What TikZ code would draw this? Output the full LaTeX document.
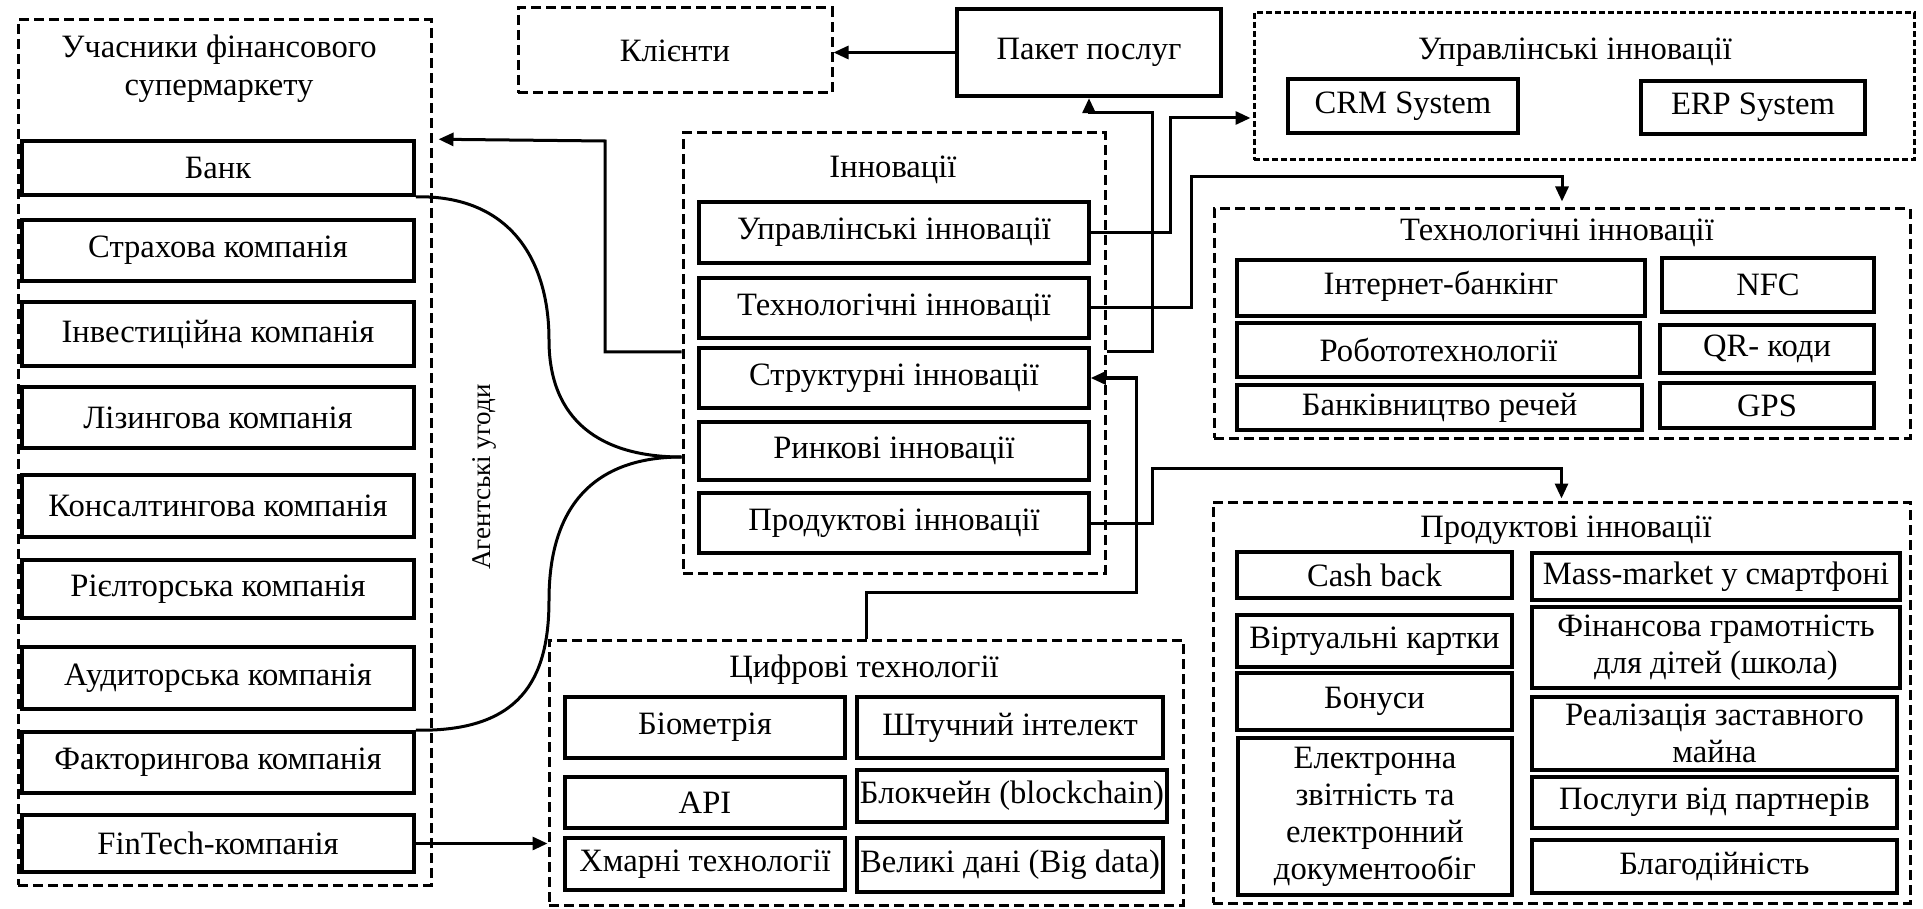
\documentclass[tikz,border=0pt]{standalone}
\usepackage{fontspec}
\setmainfont{Liberation Serif}
\usetikzlibrary{arrows.meta}
\newcommand\mainfs{\fontsize{16.3}{18.5}\selectfont}
\newcommand\agrfs{\fontsize{13.5}{15}\selectfont}
% rectangle node given by its corners (in px) and its text
\newcommand\mkrect[7][]{\node[#1, minimum width={(#5-#3)*0.5pt}, minimum height={(#6-#4)*0.5pt}]
  (#2) at ({(#3+#5)/2},{(#4+#6)/2}) {#7};}
\begin{document}
\begin{tikzpicture}[x=0.5pt,y=-0.5pt,
  box/.style={draw, line width=1.8pt, inner sep=0pt, align=center, font=\mainfs},
  grp/.style={draw, line width=1.5pt, dash pattern=on 5pt off 2.5pt, inner sep=0pt, align=center, font=\mainfs},
  ttl/.style={font=\mainfs, align=center, inner sep=0pt},
  conn/.style={line width=1.5pt},
  arr/.style={conn, -{Triangle[length=7.5pt,width=6.5pt]}}]
\useasboundingbox (0,0) rectangle (1923,909);
\fill[white] (0,0) rectangle (1923,909);

% helper heights for connectors
\coordinate (y352) at (0,352);
\coordinate (y118) at (0,118);
\coordinate (y457) at (0,457);

% participants of the financial supermarket
\mkrect[grp]{lc}{18}{20}{431}{885}{}
\node[ttl, font=\fontsize{16.3}{19}\selectfont] (lct) at (219,69) {Учасники фінансового\\супермаркету};
\mkrect[box]{bank}{22}{141}{414}{195}{Банк}
\mkrect[box]{strakh}{22}{220}{414}{281}{Страхова компанія}
\mkrect[box]{invest}{22}{302}{414}{366}{Інвестиційна компанія}
\mkrect[box]{lizing}{22}{387}{414}{448}{Лізингова компанія}
\mkrect[box]{kons}{22}{475}{414}{537}{Консалтингова компанія}
\mkrect[box]{riel}{22}{560}{414}{618}{Рієлторська компанія}
\mkrect[box]{audyt}{22}{647}{414}{709}{Аудиторська компанія}
\mkrect[box]{faktor}{22}{732}{414}{793}{Факторингова компанія}
\mkrect[box]{fintech}{22}{815}{414}{872}{FinTech-компанія}

% clients and service package
\mkrect[grp]{kl}{518}{8}{832}{93}{Клієнти}
\mkrect[box, line width=2.2pt]{pak}{957}{9}{1221}{96}{Пакет послуг}

% innovations
\mkrect[grp]{innov}{683}{133}{1105}{573}{}
\node[ttl] (innovt) at (893,170) {Інновації};
\mkrect[box]{upr}{699}{202}{1089}{263}{Управлінські інновації}
\mkrect[box]{tekh}{699}{278}{1089}{338}{Технологічні інновації}
\mkrect[box]{strukt}{699}{348}{1089}{408}{Структурні інновації}
\mkrect[box]{rynk}{699}{422}{1089}{480}{Ринкові інновації}
\mkrect[box]{prod}{699}{493}{1089}{553}{Продуктові інновації}

% management innovations
\mkrect[grp, dash pattern=on 3pt off 1.5pt]{uc}{1254}{13}{1914}{160}{}
\node[ttl] (uct) at (1575,52) {Управлінські інновації};
\mkrect[box]{crm}{1288}{79}{1518}{133}{CRM System}
\mkrect[box]{erp}{1641}{81}{1865}{134}{ERP System}

% technological innovations
\mkrect[grp]{tc}{1214}{209}{1910}{438}{}
\node[ttl] (tct) at (1557,233) {Технологічні інновації};
\mkrect[box]{ibank}{1237}{260}{1645}{316}{\raisebox{5pt}{Інтернет-банкінг}}
\mkrect[box]{robot}{1237}{323}{1640}{377}{\raisebox{-3pt}{Робототехнології}}
\mkrect[box]{iot}{1237}{385}{1642}{430}{Банківництво речей}
\mkrect[box]{nfc}{1662}{258}{1874}{312}{NFC}
\mkrect[box]{qr}{1660}{325}{1874}{373}{QR- коди}
\mkrect[box]{gps}{1660}{383}{1874}{428}{GPS}

% digital technologies
\mkrect[grp]{cc}{549}{640}{1183}{905}{}
\node[ttl] (cct) at (864,670) {Цифрові технології};
\mkrect[box]{bio}{565}{697}{845}{758}{Біометрія}
\mkrect[box]{ai}{857}{697}{1163}{758}{Штучний інтелект}
\mkrect[box]{api}{565}{777}{845}{828}{API}
\mkrect[box]{blk}{857}{770}{1167}{822}{Блокчейн (blockchain)}
\mkrect[box]{cloud}{565}{838}{845}{890}{Хмарні технології}
\mkrect[box]{big}{857}{838}{1163}{892}{Великі дані (Big data)}

% product innovations
\mkrect[grp]{pc}{1213}{502}{1910}{903}{}
\node[ttl] (pct) at (1566,530) {Продуктові інновації};
\mkrect[box]{cash}{1237}{552}{1512}{598}{Cash back}
\mkrect[box]{virt}{1237}{615}{1512}{667}{Віртуальні картки}
\mkrect[box]{bon}{1237}{673}{1512}{730}{Бонуси}
\mkrect[box]{edoc}{1238}{738}{1512}{895}{Електронна\\звітність та\\електронний\\документообіг}
\mkrect[box]{mass}{1532}{553}{1900}{600}{Mass-market у смартфоні}
\mkrect[box]{fin}{1532}{607}{1900}{688}{Фінансова грамотність\\для дітей (школа)}
\mkrect[box]{zast}{1532}{697}{1897}{770}{Реалізація заставного\\майна}
\mkrect[box]{part}{1532}{777}{1897}{828}{Послуги від партнерів}
\mkrect[box]{blag}{1532}{840}{1897}{893}{Благодійність}

% agency agreements
\node[font=\agrfs, rotate=90, inner sep=0pt] (agr) at (484,477) {Агентські угоди};

% connectors
\draw[arr] (pak.west) -- (pak.west -| kl.east);
\draw[arr] (innov.east |- y352) -- (1152,352) -- (1152,113) -| (pak.south);
\draw[arr, shorten >=3pt] (innov.west |- y352) -- (605,352) -- (605,141) -- (lc.east |- bank.north);
\draw[arr, shorten >=1pt] (upr.east) -| (1170,118) -- (uc.west |- y118);
\draw[arr, shorten >=3pt] (tekh.east) -| (1191,177) -| (tc.north);
\draw[arr] (cc.north) |- (1136,592) |- (strukt.east);
\draw[arr, shorten >=1pt] (prod.east) -| (1152,468) -| (pc.north);
\draw[arr] (fintech.east) -- (fintech.east -| cc.west);
\draw[conn] (bank.south east) .. controls (510,195) and (549,260) .. (549,340)
  .. controls (549,420) and (600,457) .. (innov.west |- y457);
\draw[conn] (faktor.north east) .. controls (520,732) and (549,680) .. (549,600)
  .. controls (549,500) and (600,457) .. (innov.west |- y457);
\end{tikzpicture}
\end{document}
